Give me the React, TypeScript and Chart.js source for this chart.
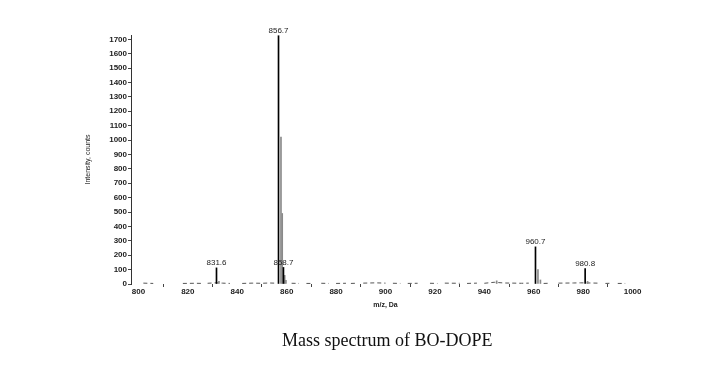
import React, { useEffect, useRef } from "react";
import { Chart, registerables } from "chart.js";

Chart.register(...registerables);

// m/z ticks
const xTickValues = [800, 820, 840, 860, 880, 900, 920, 940, 960, 980, 1000];
// intensity ticks
const yTickValues = [0, 100, 200, 300, 400, 500, 600, 700, 800, 900, 1000, 1100, 1200, 1300, 1400, 1500, 1600, 1700];

// main (black) peaks
const mainMz = [831.6, 856.7, 858.7, 960.7, 980.8];
const mainIntensity = [112, 1725, 115, 258, 108];

// secondary (grey) isotope / minor peaks
const minorMz = [832.6, 857.7, 858.2, 859.2, 859.7, 945.0, 961.7, 962.7, 981.8];
const minorIntensity = [18, 1020, 490, 60, 25, 22, 100, 28, 18];

// labelled peaks
const labelMz = [831.6, 856.7, 858.7, 960.7, 980.8];
const labelIntensity = [112, 1725, 115, 258, 108];
const labelText = ["831.6", "856.7", "858.7", "960.7", "980.8"];

// baseline noise trace
const baselineMz = [
  802, 806, null, 818, 823, 826, null, 828, 831, 834, 837, null, 842, 846, 850, 853, 855,
  null, 862, 865, null, 868, 870, null, 874, 877, null, 880, 884, null, 886, 888, null, 891,
  896, 900, null, 903, 906, null, 909, 913, null, 918, 921, null, 924, 930, null, 933, 937,
  null, 940, 944, 948, 952, 955, 958, null, 964, 966, null, 970, 976, 979, 983, 986, null,
  989, 991, null, 994, 997,
];
const baselineIntensity = [
  6, 4, null, 4, 5, 4, null, 5, 8, 6, 4, null, 4, 6, 5, 7, 6,
  null, 5, 4, null, 4, 4, null, 5, 4, null, 4, 5, null, 4, 5, null, 6,
  8, 6, null, 5, 4, null, 4, 5, null, 5, 4, null, 6, 5, null, 4, 6,
  null, 5, 12, 7, 6, 5, 6, null, 4, 5, null, 6, 7, 8, 7, 6, null,
  4, 5, null, 4, 4,
];

const TICK_FONT = { family: "Liberation Sans", size: 8, weight: "bold" as const };

export default function App() {
  const canvasRef = useRef<HTMLCanvasElement | null>(null);

  useEffect(() => {
    const canvas = canvasRef.current;
    if (!canvas) return;

    const labelPlugin = {
      id: "peakLabels",
      afterDatasetsDraw(chart: any) {
        const ctx = chart.ctx;
        const xs = chart.scales.x;
        const ys = chart.scales.y;
        ctx.save();
        ctx.font = "8px 'Liberation Sans'";
        ctx.fillStyle = "#222";
        ctx.textAlign = "center";
        ctx.textBaseline = "bottom";
        labelMz.forEach((mz, i) => {
          const px = xs.getPixelForValue(mz);
          const py = ys.getPixelForValue(labelIntensity[i]) - 1;
          ctx.fillText(labelText[i], px, py);
        });
        ctx.restore();
      },
    };

    const baselineData = baselineMz.map((m, i) =>
      m === null ? { x: NaN, y: NaN } : { x: m, y: baselineIntensity[i] as number }
    );

    const chart = new Chart(canvas, {
      type: "bar",
      data: {
        datasets: [
          {
            type: "line",
            data: baselineData as any,
            borderColor: "#555",
            borderWidth: 1,
            borderDash: [4, 3],
            pointRadius: 0,
            spanGaps: false,
            order: 3,
          } as any,
          {
            data: minorMz.map((m, i) => ({ x: m, y: minorIntensity[i] })),
            backgroundColor: "#8a8a8a",
            barThickness: 1,
            grouped: false,
            order: 2,
          } as any,
          {
            data: mainMz.map((m, i) => ({ x: m, y: mainIntensity[i] })),
            backgroundColor: "#000",
            barThickness: 1,
            grouped: false,
            order: 1,
          } as any,
        ],
      },
      options: {
        responsive: false,
        animation: false,
        layout: { padding: { left: 84, top: 35, right: 69, bottom: 63 } },
        plugins: {
          legend: { display: false },
          tooltip: { enabled: false },
          title: { display: false },
        },
        scales: {
          x: {
            type: "linear",
            min: 797,
            max: 1003,
            offset: false,
            afterBuildTicks: (scale: any) => {
              scale.ticks = xTickValues.map((v) => ({ value: v }));
            },
            afterFit: (scale: any) => {
              scale.height = 25;
            },
            grid: { display: true, drawOnChartArea: false, tickLength: 3, color: "#444" },
            border: { display: false },
            ticks: {
              font: TICK_FONT,
              color: "#222",
              padding: 0,
              maxRotation: 0,
              autoSkip: false,
              callback: (v: any) => String(v),
            },
            title: {
              display: true,
              text: "m/z, Da",
              font: { family: "Liberation Sans", size: 7, weight: "bold" },
              color: "#222",
              padding: { top: 0, bottom: 0 },
            },
          },
          y: {
            min: 0,
            max: 1730,
            afterBuildTicks: (scale: any) => {
              scale.ticks = yTickValues.map((v) => ({ value: v }));
            },
            afterFit: (scale: any) => {
              scale.width = 47;
            },
            grid: { display: true, drawOnChartArea: false, tickLength: 3, color: "#444" },
            border: { display: true, color: "#333", width: 1 },
            ticks: {
              font: TICK_FONT,
              color: "#222",
              padding: 1,
              autoSkip: false,
              callback: (v: any) => String(v),
            },
            title: {
              display: true,
              text: "Intensity, counts",
              font: { family: "Liberation Sans", size: 7 },
              color: "#222",
              padding: 0,
            },
          },
        },
      },
      plugins: [labelPlugin],
    });

    return () => {
      chart.destroy();
    };
  }, []);

  return (
    <div style={{ position: "absolute", left: 0, top: 0, width: 709, height: 372, background: "#fff" }}>
      <canvas ref={canvasRef} width={709} height={372} style={{ display: "block" }} />
      <div
        style={{
          position: "absolute",
          left: 282,
          top: 331,
          fontFamily: "'Liberation Serif', 'Times New Roman', serif",
          fontSize: 18,
          lineHeight: "18px",
          color: "#111",
          whiteSpace: "nowrap",
        }}
      >
        Mass spectrum of BO-DOPE
      </div>
    </div>
  );
}
